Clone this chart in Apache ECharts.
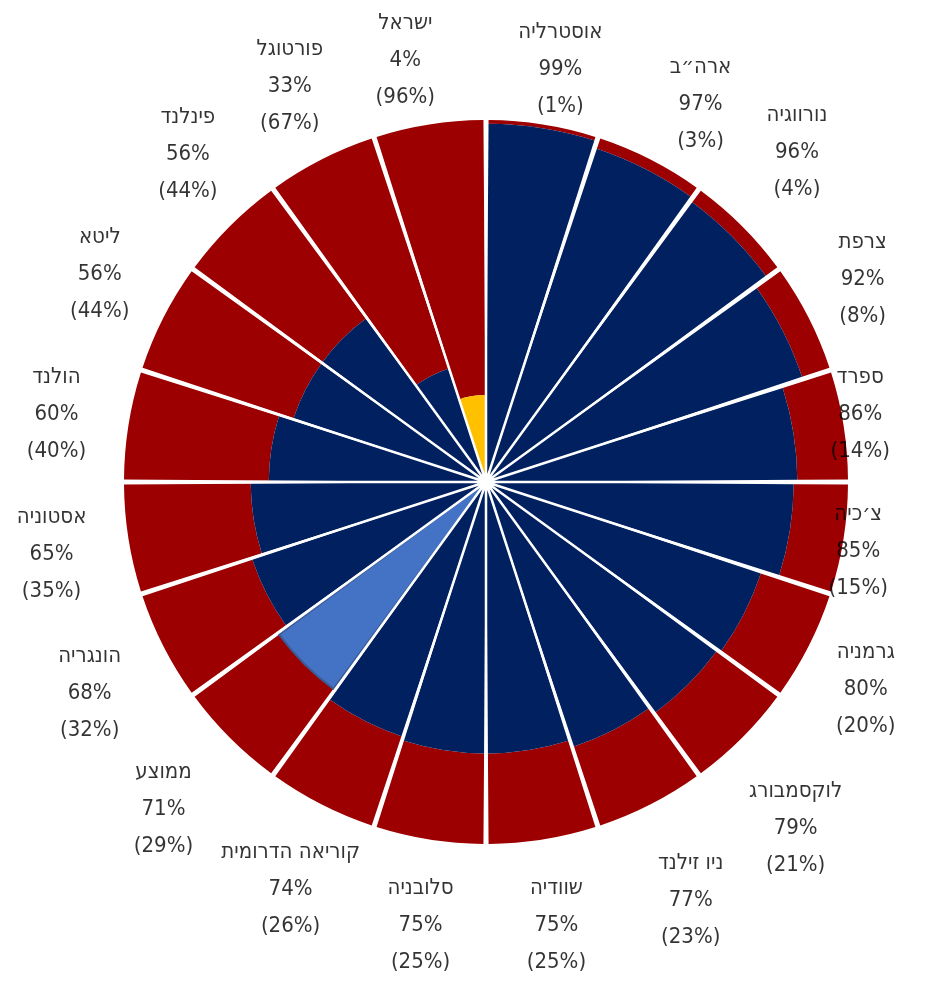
<!DOCTYPE html>
<html lang="he">
<head>
<meta charset="utf-8">
<title>polar</title>
<script src="https://cdn.jsdelivr.net/npm/echarts@6/dist/echarts.min.js"></script>
<style>
  html, body { margin: 0; padding: 0; background: #fff; }
  #chart { width: 928px; height: 981px; }
</style>
</head>
<body>
<div id="chart"></div>
<script>
// data, clockwise from 12 o'clock
const countries = ['אוסטרליה', 'ארה״ב', 'נורווגיה', 'צרפת', 'ספרד', 'צ׳כיה', 'גרמניה', 'לוקסמבורג',
  'ניו זילנד', 'שוודיה', 'סלובניה', 'קוריאה הדרומית', 'ממוצע', 'הונגריה', 'אסטוניה', 'הולנד',
  'ליטא', 'פינלנד', 'פורטוגל', 'ישראל'];
const sharePct = [99, 97, 96, 92, 86, 85, 80, 79, 77, 75, 75, 74, 71, 68, 65, 60, 56, 56, 33, 4];
const restPct = [1, 3, 4, 8, 14, 15, 20, 21, 23, 25, 25, 26, 29, 32, 35, 40, 44, 44, 67, 96];
// wedge length as drawn in the picture (Israel's wedge is drawn longer than its 4%)
const drawnShare = [99, 97, 96, 92, 86, 85, 80, 79, 77, 75, 75, 74, 71, 68, 65, 60, 56, 56, 33, 24];

// layout: distance of each label from the centre, in radius units (100 = wedge edge)
const labelRadius = [115.5, 119, 125, 117.7, 104.1, 104.1, 119.6, 127.6, 127.6, 124.3,
  124.3, 126.2, 126, 123.5, 121.5, 120.7, 121.3, 123.5, 121.8, 116];
// layout: small pixel nudges so labels sit where the original put them
const labelNudge = [[9, 0], [19, 6], [-9, -10], [-3, -9], [2, -9], [0, 10], [-6, 11], [-17, 20],
  [-5, 7], [0, -1], [5, -1], [12, 0], [0, 5], [2, 8], [0, 3], [2, 1],
  [5, -8], [18, -12], [4, -3], [-15, -7]];

const NAVY = '#002060';
const RED = '#9c0000';
const highlight = {
  'ישראל': { color: '#ffc000' },
  'ממוצע': { color: '#4472c4', borderColor: '#3a5a94', borderWidth: 2 }
};

const EDGE = 362;      // px radius of the wedges
const AXIS_MAX = 130;  // radius axis runs past the wedges so labels fit inside

const chart = echarts.init(document.getElementById('chart'));

const innerData = drawnShare.map((v, i) => {
  const style = highlight[countries[i]];
  return style ? { value: v, itemStyle: style } : v;
});
// the red part fills each wedge up to the full radius
const outerData = drawnShare.map((v) => 100 - v);

const labelData = countries.map((c, i) => ({
  value: [labelRadius[i], c],
  label: { offset: labelNudge[i] }
}));

const option = {
  backgroundColor: '#ffffff',
  animation: false,
  polar: {
    center: [486, 482],
    radius: EDGE * AXIS_MAX / 100
  },
  angleAxis: {
    type: 'category',
    data: countries,
    startAngle: 90,
    clockwise: true,
    z: 3,
    axisLine: { show: false },
    axisTick: { show: false },
    axisLabel: { show: false },
    splitLine: {
      show: true,
      lineStyle: { color: '#ffffff', width: 2.5 }
    }
  },
  radiusAxis: {
    type: 'value',
    min: 0,
    max: AXIS_MAX,
    axisLine: { show: false },
    axisTick: { show: false },
    axisLabel: { show: false },
    splitLine: { show: false }
  },
  series: [
    {
      name: 'share',
      type: 'bar',
      coordinateSystem: 'polar',
      stack: 'wedge',
      data: innerData,
      barCategoryGap: '4.5%',
      itemStyle: { color: NAVY },
      z: 2
    },
    {
      name: 'rest',
      type: 'bar',
      coordinateSystem: 'polar',
      stack: 'wedge',
      data: outerData,
      barCategoryGap: '4.5%',
      itemStyle: { color: RED },
      z: 1
    },
    {
      name: 'labels',
      type: 'scatter',
      coordinateSystem: 'polar',
      data: labelData,
      symbolSize: 1,
      itemStyle: { color: 'rgba(0,0,0,0)' },
      silent: true,
      z: 5,
      label: {
        show: true,
        position: 'inside',
        align: 'center',
        verticalAlign: 'middle',
        color: '#000000',
        fontFamily: '"DejaVu Sans Condensed", "Liberation Sans Narrow", "DejaVu Sans", sans-serif',
        fontSize: 22,
        lineHeight: 37,
        formatter: (p) => {
          const i = p.dataIndex;
          return countries[i] + '\n' + sharePct[i] + '%\n(' + restPct[i] + '%)';
        }
      }
    }
  ]
};

chart.setOption(option);
</script>
</body>
</html>
